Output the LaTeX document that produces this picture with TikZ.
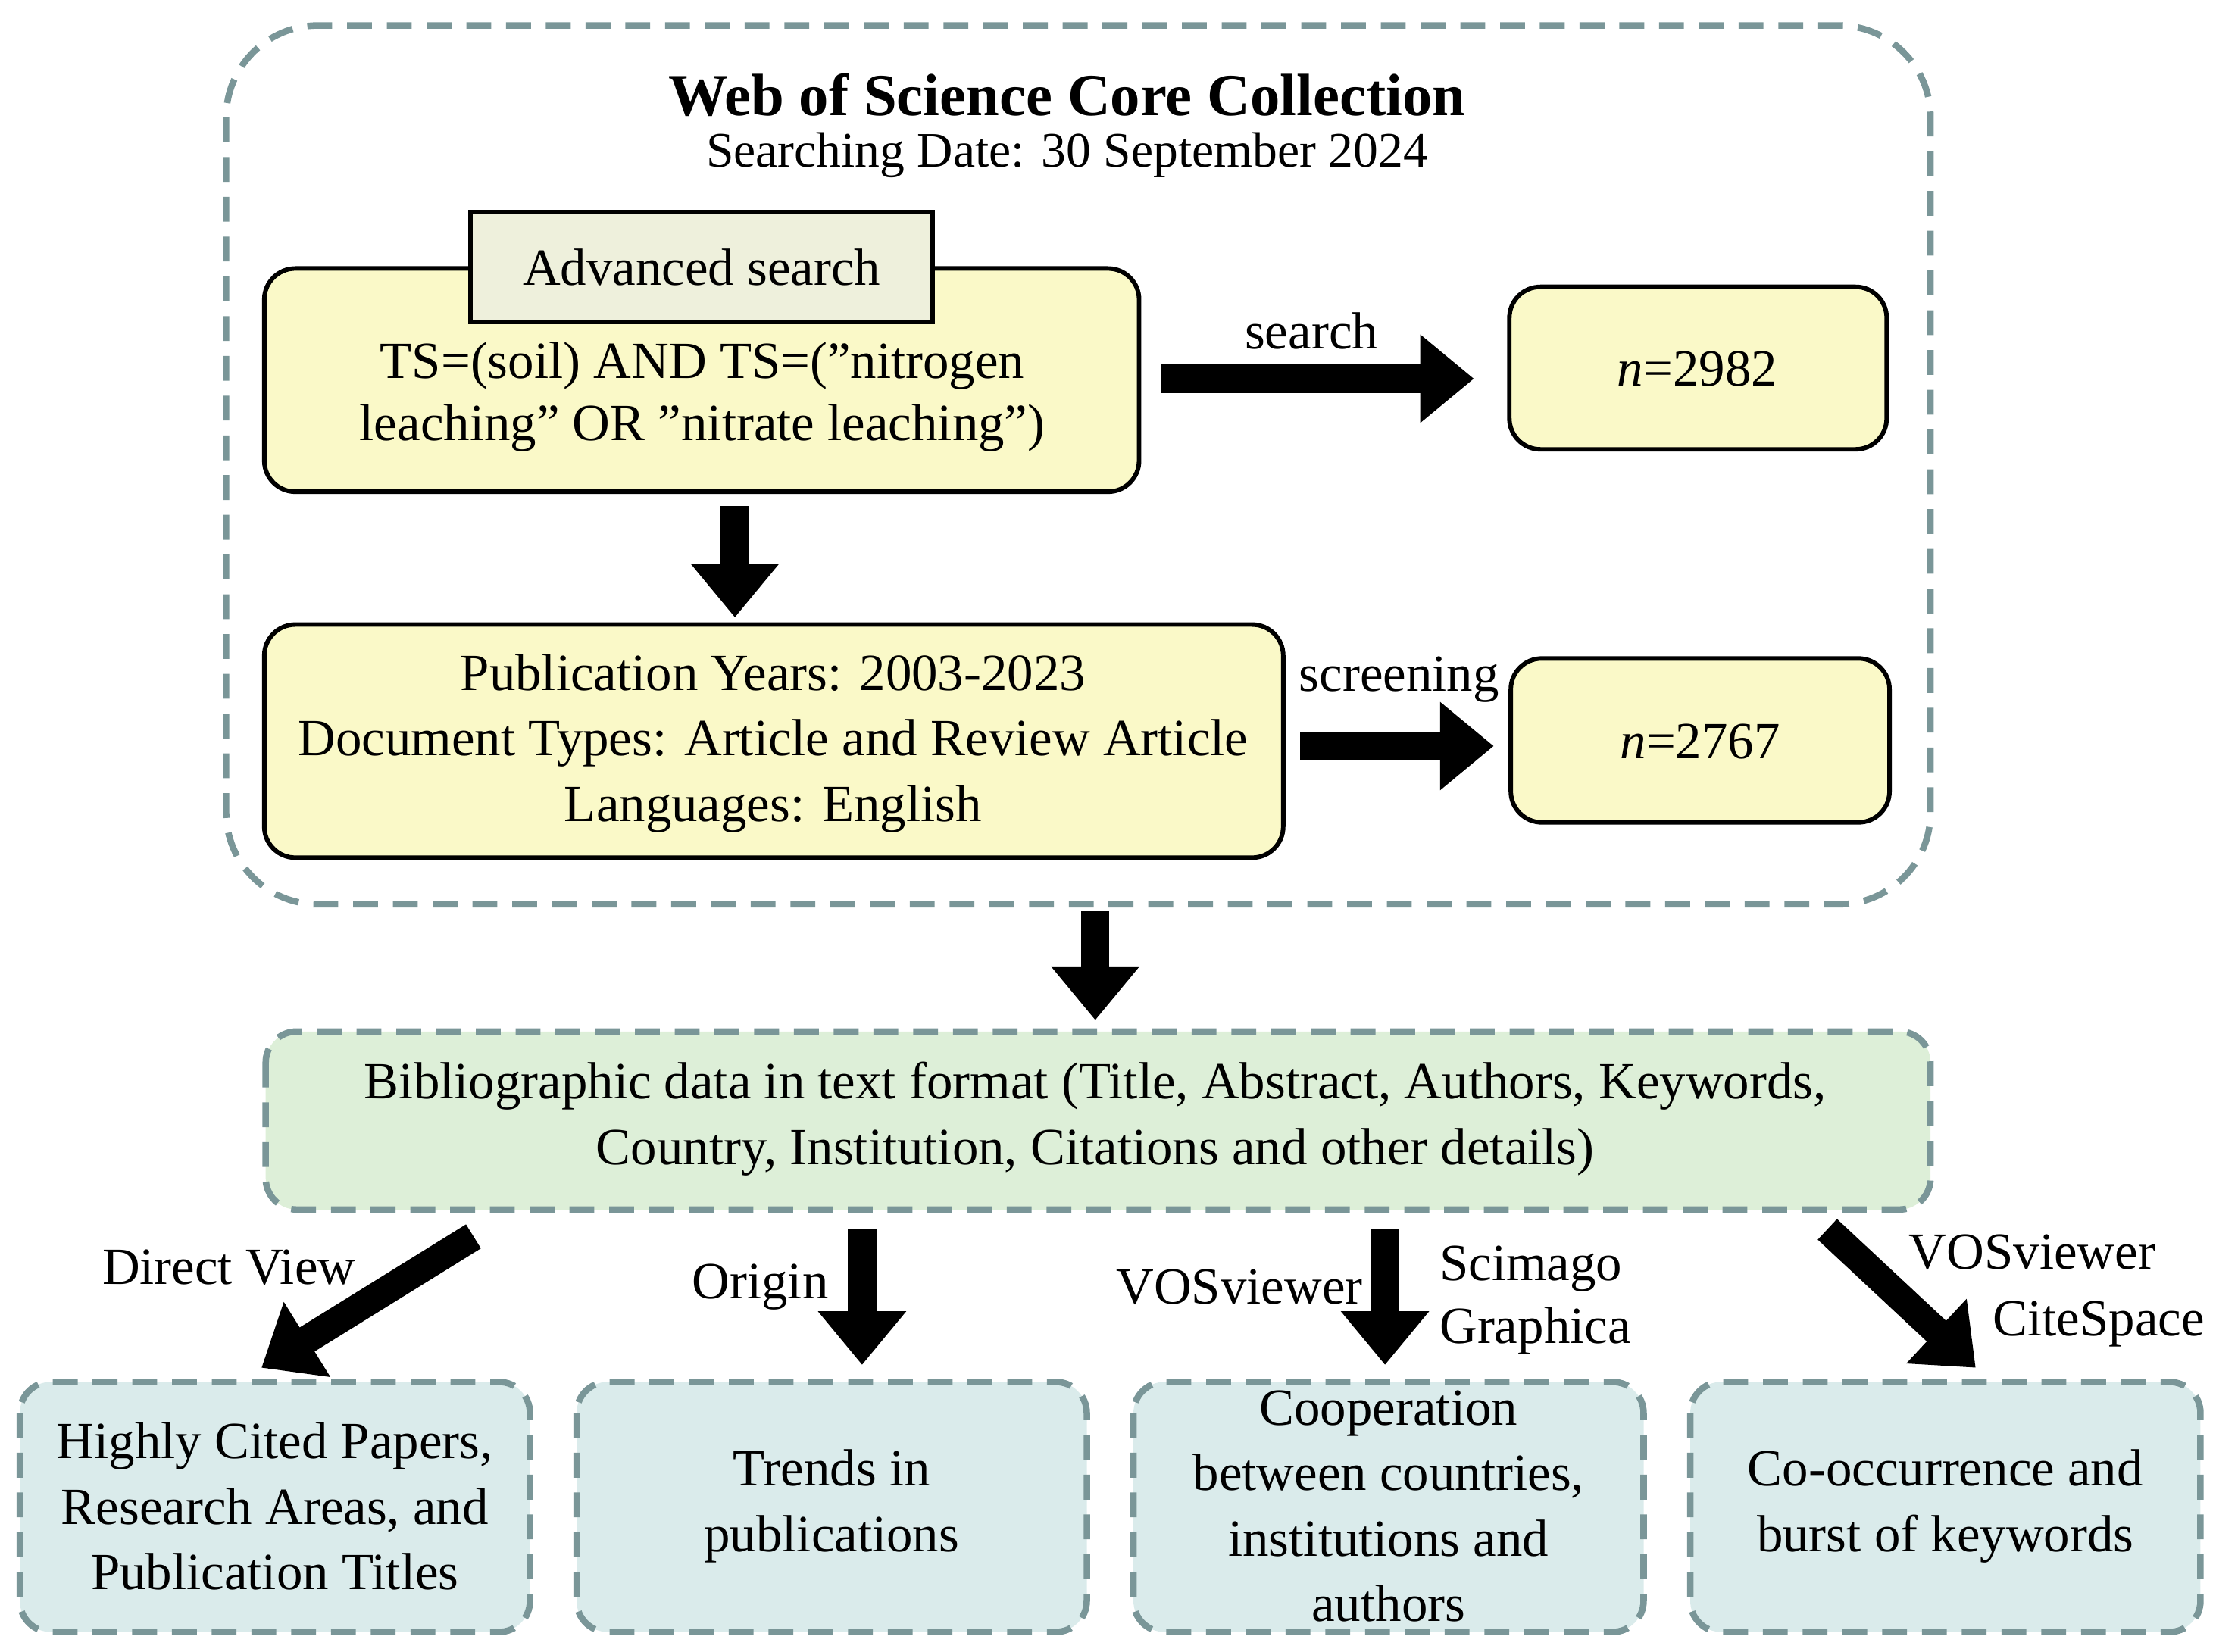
\documentclass[tikz,border=0pt]{standalone}
\usepackage{fontspec}
\setmainfont{Liberation Serif}
\usetikzlibrary{arrows.meta}
\definecolor{dash}{RGB}{122,150,152}
\definecolor{yel}{RGB}{250,249,200}
\definecolor{adv}{RGB}{238,240,220}
\definecolor{grn}{RGB}{221,239,216}
\definecolor{blu}{RGB}{218,235,235}
\begin{document}
\begin{tikzpicture}[x=0.01cm,y=-0.01cm,
 yb/.style={draw=black,line width=0.9pt,fill=yel,rounded corners=0.22cm},
 db/.style={draw=dash,line width=1.3pt,dash pattern=on 5pt off 3pt,rounded corners=0.22cm},
 big/.style={line width=0.2cm,-{Triangle[length=0.38cm,width=0.6cm]}},
 t/.style={font=\fontsize{10.5}{12.6}\selectfont,align=center,inner sep=0pt}]
\useasboundingbox (0,0) rectangle (1568,1169);
\draw[db,rounded corners=0.65cm] (160,18) rectangle (1366,640);
\node[t,font=\fontsize{12}{14}\selectfont\bfseries] (title) at (755,67) {Web of Science Core Collection};
\node[t,font=\fontsize{10}{12}\selectfont] (date) at (755,110) {Searching Date: 30 September 2024};
\draw[yb] (187,190) rectangle (806,348); \coordinate (b1) at (497,270);
\node[t] (q) at (497,281) {TS=(soil) AND TS=("nitrogen\\leaching" OR "nitrate leaching")};
\node[draw=black,line width=0.9pt,fill=adv,minimum width=3.27cm,minimum height=0.78cm,t] (adv) at (496.5,189) {Advanced search};
\draw[yb] (1068,203) rectangle (1335,318);
\node[t] (n1) at (1201,261) {\textit{n}=2982};
\coordinate (s1) at (822,268); \coordinate (e1) at (1043,268);
\draw[big] (s1) -- (e1);
\node[t] (search) at (928,234) {search};
\coordinate (s2) at (520,358); \coordinate (e2) at (520,437);
\draw[big] (s2) -- (e2);
\draw[yb] (187,442) rectangle (908,607);
\node[t,font=\fontsize{10.5}{13.2}\selectfont] (pub) at (547,526) {Publication Years: 2003-2023\\Document Types: Article and Review Article\\Languages: English};
\draw[yb] (1069,466) rectangle (1337,582);
\node[t] (n2) at (1203,525) {\textit{n}=2767};
\coordinate (s3) at (920,528); \coordinate (e3) at (1057,528);
\draw[big] (s3) -- (e3);
\node[t] (scr) at (990,481) {screening};
\coordinate (s4) at (775,645); \coordinate (e4) at (775,722);
\draw[big] (s4) -- (e4);
\draw[db,fill=grn] (188,730) rectangle (1366,856);
\node[t,font=\fontsize{10.5}{13.2}\selectfont] (bib) at (775,792) {Bibliographic data in text format (Title, Abstract, Authors, Keywords,\\Country, Institution, Citations and other details)};
\foreach \x/\n/\txt in {14/c1/{Highly Cited Papers,\\Research Areas, and\\Publication Titles},408/c2/{Trends in\\publications},802/c3/{Cooperation\\between countries,\\institutions and\\authors},1196/c4/{Co-occurrence and\\burst of keywords}}{
 \draw[db,fill=blu] (\x,978) rectangle ++(361,177);
 \node[t,font=\fontsize{10.5}{13.2}\selectfont] (\n) at (\x+180.5,1066) {\txt};}
\coordinate (a1) at (335,875); \coordinate (b1e) at (185,968);
\coordinate (a2) at (610,870); \coordinate (b2) at (610,966);
\coordinate (a3) at (980,870); \coordinate (b3) at (980,966);
\coordinate (a4) at (1293,870); \coordinate (b4) at (1398,968);
\draw[big] (a1) -- (b1e); \draw[big] (a2) -- (b2);
\draw[big] (a3) -- (b3); \draw[big] (a4) -- (b4);
\node[t] (l1) at (162,897) {Direct View};
\node[t] (l2) at (538,911) {Origin};
\node[t] (l3) at (877,911) {VOSviewer};
\node[t,align=left,anchor=west] (l4) at (1018,920) {Scimago\\Graphica};
\node[t] (l5) at (1438,886) {VOSviewer};
\node[t] (l6) at (1485,937) {CiteSpace};
\end{tikzpicture}
\end{document}
